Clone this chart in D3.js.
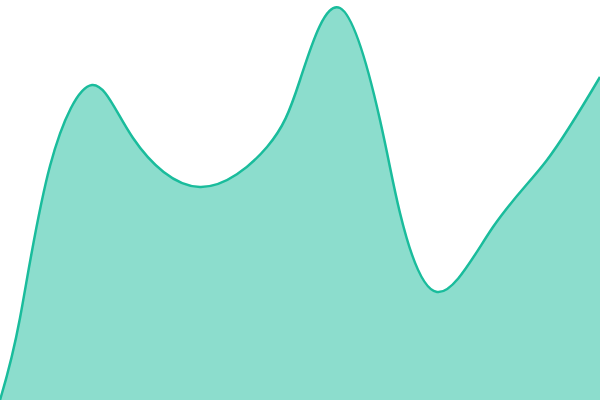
<!DOCTYPE html>
<html>
<head>
<meta charset="utf-8">
<script src="https://cdn.jsdelivr.net/npm/d3@7"></script>
<style>
  html, body { margin: 0; padding: 0; background: #fff; }
  svg { display: block; }
</style>
</head>
<body>
<div id="area-chart"></div>
<script>
// data (time in s, level in %)
var times = [0, 2, 5, 9.2, 13.3, 20, 26.7, 30, 34, 38, 40, 43.7, 49.3, 54.7, 60];
var values = [0, 20.5, 58.5, 78.75, 65.5, 53.25, 63.25, 80, 98, 70, 46.75, 27, 43.25, 60, 80.75];

var width = 600,
    height = 400;

var data = times.map(function(t, i) { return {t: t, v: values[i]}; });

var svg = d3.select("#area-chart")
  .append("svg")
    .attr("width", width)
    .attr("height", height);

var x = d3.scaleLinear()
    .domain([0, 60])
    .range([0, width]);

var y = d3.scaleLinear()
    .domain([0, 100])
    .range([height, 0]);

// filled area
svg.append("path")
    .datum(data)
    .attr("d", d3.area()
      .curve(d3.curveNatural)
      .x(function(d) { return x(d.t); })
      .y0(y(0))
      .y1(function(d) { return y(d.v); })
    )
    .style("fill", "#1abc9c")
    .style("fill-opacity", 0.5);

// outline
svg.append("path")
    .datum(data)
    .attr("d", d3.line()
      .curve(d3.curveNatural)
      .x(function(d) { return x(d.t); })
      .y(function(d) { return y(d.v); })
    )
    .style("fill", "none")
    .style("stroke", "#1abc9c")
    .style("stroke-width", 2.5);
</script>
</body>
</html>
